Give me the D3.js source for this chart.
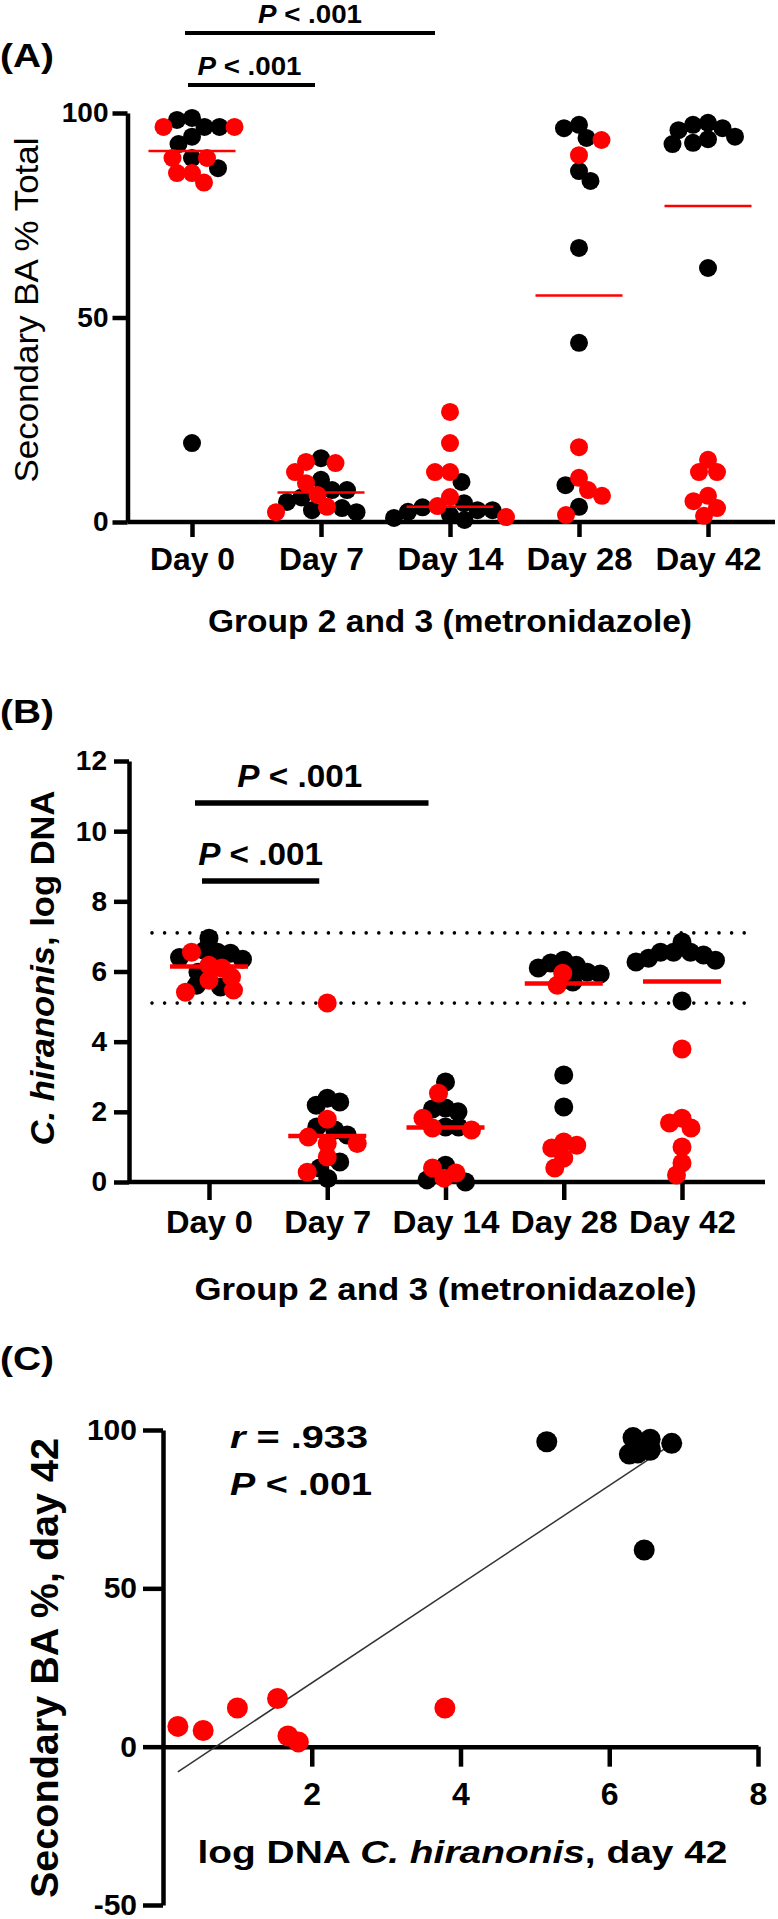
<!DOCTYPE html>
<html>
<head>
<meta charset="utf-8">
<script src="https://cdn.jsdelivr.net/npm/d3@7"></script>
<style>
  body { margin: 0; background: #fff; }
  svg { display: block; }
</style>
</head>
<body>
<svg id="fig" width="778" height="1919"></svg>
<script>
// ---- data ----
const days = ["Day 0", "Day 7", "Day 14", "Day 28", "Day 42"];
const comparisons = [["Day 0", "Day 7"], ["Day 0", "Day 14"]];
const pText = "P < .001";

// (A) secondary BA % of total, one row per day
const baBlack = [
  [96.6, 98.8, 98.3, 96.6, 94.2, 92.4, 89, 86.5, 19.3],
  [7.8, 10.3, 15.6, 2.9, 3.4, 4.9, 7.8, 2.4, 6.0],
  [9.8, 1.7, 4.6, 3.6, 2.9, 2.9, 0.5, 1.0, 2.5],
  [97.1, 93.9, 96.3, 85.8, 83.4, 67, 43.8, 9, 3.7],
  [94.2, 96.3, 93.6, 97.1, 97.6, 95.8, 92.4, 92.7, 62.1]
];
const baRed = [
  [96.6, 96.6, 85.3, 85.3, 83, 89, 89],
  [14.4, 9.5, 12.2, 14.7, 6.6, 2.4, 3.7],
  [26.9, 19.3, 12.2, 12.2, 3.9, 6.1, 1.2],
  [93.4, 89.7, 18.3, 10.8, 6.4, 7.8, 1.7],
  [6.4, 1.5, 12.2, 12.2, 15.2, 3.4, 5.1]
];
const baTicks = [0, 50, 100];

// (B) C. hiranonis log DNA
const dnaBlack = [
  [6.52, 6.55, 6.6, 6.95, 6.4, 5.98, 5.56, 5.61, 6.35],
  [2.39, 2.19, 2.28, 1.48, 1.57, 1.34, 0.4, 0.57, 0.1],
  [2.85, 2.11, 2.08, 2.0, 1.57, 1.57, 0.48, 0.06, 0.0],
  [5.93, 6.1, 6.18, 6.24, 6.32, 5.98, 5.7, 3.05, 2.14],
  [6.47, 6.55, 6.32, 6.55, 6.84, 6.27, 6.55, 6.38, 5.16]
];
const dnaRed = [
  [6.55, 6.18, 5.84, 5.75, 6.1, 5.47, 5.41],
  [5.1, 1.79, 1.28, 1.1, 1.1, 0.71, 0.28],
  [2.53, 1.82, 1.54, 1.48, 0.11, 0.4, 0.26],
  [5.95, 5.61, 0.97, 1.14, 1.05, 0.68, 0.4],
  [3.79, 1.68, 1.82, 1.54, 1.0, 0.54, 0.2]
];
const dnaTicks = [0, 2, 4, 6, 8, 10, 12];
const refInterval = [5.1, 7.1];

// (C) day 42: log DNA vs secondary BA %
const cDnaBlack = [5.16, 6.47, 6.32, 6.55, 6.84, 6.27, 6.55, 6.55, 6.38];
const cBaBlack = [96.3, 62.1, 97.6, 97.1, 95.8, 92.4, 93.6, 94.2, 92.7];
const cDnaRed = [0.2, 0.54, 1.0, 1.54, 1.68, 1.82, 3.79];
const cBaRed = [6.4, 5.1, 12.2, 15.2, 3.4, 1.5, 12.2];
const cXTicks = [2, 4, 6, 8];
const cYTicks = [-50, 0, 50, 100];
const rText = ".933";

// ---- drawing ----
const FONT = '"Liberation Sans", Arial, Helvetica, sans-serif';
const RED = "#ff0000";
const AXW = 4.5;
const svg = d3.select("#fig");

function addText(parent, parts, o) {
  const t = parent.append("text")
    .attr("font-family", FONT)
    .attr("font-size", o.size)
    .attr("font-weight", o.weight || "bold")
    .attr("text-anchor", o.anchor || "start")
    .attr("fill", "#000");
  if (o.rotate) t.attr("transform", `translate(${o.x},${o.y}) rotate(-90)`);
  else t.attr("x", o.x).attr("y", o.y);
  if (o.len) t.attr("textLength", o.len).attr("lengthAdjust", "spacingAndGlyphs");
  if (parts.length === 1 && !Array.isArray(parts[0])) {
    t.text(parts[0]);
  } else {
    parts.forEach(p => {
      const [s, it] = Array.isArray(p) ? p : [p, false];
      t.append("tspan").attr("font-style", it ? "italic" : "normal").text(s);
    });
  }
  return t;
}

function styleAxis(sel, size) {
  sel.attr("font-size", size).attr("font-family", FONT).attr("font-weight", "bold");
  sel.selectAll("path, line").attr("stroke", "#000").attr("stroke-width", AXW);
  sel.selectAll("text").attr("fill", "#000");
}

// simple beeswarm: spread points sideways until they stop colliding
function swarm(points, y, minDist) {
  const pts = points.map(d => ({ ...d, py: y(d.v) })).sort((a, b) => a.py - b.py);
  const placed = [];
  pts.forEach((p, j) => {
    const sgn = j % 2 ? -1 : 1;
    for (let k = 0; k < 600; k++) {
      const dx = k === 0 ? 0 : (k % 2 ? sgn : -sgn) * Math.ceil(k / 2) * 0.5;
      if (placed.every(q => (q.dx - dx) ** 2 + (q.py - p.py) ** 2 >= minDist * minDist)) {
        p.dx = dx;
        break;
      }
    }
    placed.push(p);
  });
  return pts;
}

function dotPanel(o) {
  const x = d3.scalePoint().domain(days).range(o.xRange);
  const y = d3.scaleLinear().domain(o.yDomain).range(o.yRange);
  const g = svg.append("g");

  const ya = g.append("g").attr("transform", `translate(${o.axisX},0)`)
    .call(d3.axisLeft(y).tickValues(o.yTicks).tickFormat(d => String(d))
      .tickSize(o.yTickLen).tickSizeOuter(0).tickPadding(o.yPad));
  styleAxis(ya, o.yFont);

  const xa = g.append("g").attr("transform", `translate(0,${y(0)})`)
    .call(d3.axisBottom(x).tickSize(o.xTickLen).tickSizeOuter(0));
  xa.select(".domain").remove();
  styleAxis(xa, o.xFont);
  xa.selectAll(".tick text").attr("dy", null).attr("y", o.xLabBase - y(0))
    .attr("textLength", d => d.length > 5 ? o.xLabW[1] : o.xLabW[0])
    .attr("lengthAdjust", "spacingAndGlyphs");
  g.append("line")
    .attr("x1", o.axisX).attr("x2", o.axisEnd)
    .attr("y1", y(0)).attr("y2", y(0))
    .attr("stroke", "#000").attr("stroke-width", AXW);

  if (o.refLines) {
    g.selectAll(".ref").data(o.refLines).join("line")
      .attr("x1", o.refX[0]).attr("x2", o.refX[1])
      .attr("y1", d => y(d)).attr("y2", d => y(d))
      .attr("stroke", "#000").attr("stroke-width", 3.6)
      .attr("stroke-linecap", "round").attr("stroke-dasharray", "0,12.6");
  }

  days.forEach((day, i) => {
    const pts = o.black[i].map(v => ({ v, c: "#000" }))
      .concat(o.red[i].map(v => ({ v, c: RED })));
    const laid = swarm(pts, y, o.minDist);
    const cx = x(day);
    g.selectAll(null).data(laid.filter(d => d.c === "#000")).join("circle")
      .attr("cx", d => cx + d.dx).attr("cy", d => d.py).attr("r", o.r).attr("fill", "#000");
    g.selectAll(null).data(laid.filter(d => d.c === RED)).join("circle")
      .attr("cx", d => cx + d.dx).attr("cy", d => d.py).attr("r", o.r).attr("fill", RED);
    const med = d3.median(pts, d => d.v);
    g.append("line")
      .attr("x1", cx - o.medHalf).attr("x2", cx + o.medHalf)
      .attr("y1", y(med)).attr("y2", y(med))
      .attr("stroke", RED).attr("stroke-width", o.medW);
  });

  // significance bars
  comparisons.forEach(([a, b], i) => {
    const lv = o.bars[i];
    const x1 = x(a) - lv.a, x2 = x(b) - lv.b;
    g.append("line").attr("x1", x1).attr("x2", x2).attr("y1", lv.y).attr("y2", lv.y)
      .attr("stroke", "#000").attr("stroke-width", o.barW);
    addText(g, [["P", true], pText.slice(1)],
      { x: (x1 + x2) / 2 + lv.dx, y: lv.y - lv.gap, size: o.pFont, anchor: "middle", len: o.pLen });
  });

  addText(g, ["Group 2 and 3 (metronidazole)"],
    { x: x("Day 14"), y: o.titleBase, size: o.titleFont, anchor: "middle", len: o.titleLen });
  return { x, y, g };
}

// (A)
addText(svg, ["(A)"], { x: 0, y: 67, size: 34, len: 54 });
dotPanel({
  black: baBlack, red: baRed,
  xRange: [192, 708], axisX: 127.5, axisEnd: 775,
  yDomain: [0, 100], yRange: [522, 113], yTicks: baTicks,
  yTickLen: 15, yPad: 4, yFont: 28,
  xTickLen: 15, xFont: 31, xLabBase: 570, xLabW: [85, 106],
  r: 9, minDist: 15, medHalf: 43.5, medW: 2.5,
  barW: 4, pFont: 25, pLen: 104,
  bars: [{ a: 4, b: 6, y: 85, gap: 10, dx: -2 }, { a: 7, b: 15, y: 33, gap: 10, dx: 0 }],
  titleBase: 632, titleFont: 31, titleLen: 484
});
addText(svg, ["Secondary BA % Total"],
  { x: 38, y: 310, size: 34, weight: "normal", anchor: "middle", rotate: true, len: 345 });

// (B)
addText(svg, ["(B)"], { x: 0, y: 723, size: 34, len: 54 });
dotPanel({
  black: dnaBlack, red: dnaRed,
  xRange: [209, 682], axisX: 129, axisEnd: 765,
  yDomain: [0, 12], yRange: [1182, 761], yTicks: dnaTicks,
  yTickLen: 15, yPad: 7, yFont: 28,
  xTickLen: 18, xFont: 31, xLabBase: 1233, xLabW: [87, 107],
  r: 9.5, minDist: 13, medHalf: 39, medW: 4.5,
  refLines: refInterval, refX: [152, 752],
  barW: 5.5, pFont: 31, pLen: 125,
  bars: [{ a: 7, b: 8, y: 881, gap: 16, dx: 0 }, { a: 14, b: 17, y: 803, gap: 16, dx: -12 }],
  titleBase: 1300, titleFont: 31, titleLen: 502
});
addText(svg, [["C. hiranonis", true], ", log DNA"],
  { x: 54, y: 968, size: 34, anchor: "middle", rotate: true, len: 355 });

// (C)
addText(svg, ["(C)"], { x: 0, y: 1370, size: 34, len: 54 });
const xC = d3.scaleLinear().domain([0, 8]).range([163, 758]);
const yC = d3.scaleLinear().domain([-50, 100]).range([1905, 1430]);
const gC = svg.append("g");

const cxa = gC.append("g").attr("transform", `translate(0,${yC(0)})`)
  .call(d3.axisBottom(xC).tickValues(cXTicks).tickFormat(d => String(d)).tickSize(20).tickSizeOuter(0));
styleAxis(cxa, 32);
cxa.selectAll(".tick text").attr("dy", null).attr("y", 1805 - yC(0));

const cya = gC.append("g").attr("transform", `translate(${xC(0)},0)`)
  .call(d3.axisLeft(yC).tickValues(cYTicks).tickFormat(d => String(d))
    .tickSize(20).tickSizeOuter(0).tickPadding(6));
styleAxis(cya, 30);

// least-squares fit through all day-42 points
const cx = cDnaBlack.concat(cDnaRed), cy = cBaBlack.concat(cBaRed);
const mx = d3.mean(cx), my = d3.mean(cy);
const slope = d3.sum(cx, (v, i) => (v - mx) * (cy[i] - my)) / d3.sum(cx, v => (v - mx) ** 2);
const icpt = my - slope * mx;
const [xmin, xmax] = d3.extent(cx);
gC.append("line")
  .attr("x1", xC(xmin)).attr("y1", yC(icpt + slope * xmin))
  .attr("x2", xC(xmax)).attr("y2", yC(icpt + slope * xmax))
  .attr("stroke", "#333").attr("stroke-width", 1.5);

gC.selectAll(".cb").data(cDnaBlack).join("circle")
  .attr("cx", d => xC(d)).attr("cy", (d, i) => yC(cBaBlack[i]))
  .attr("r", 10.5).attr("fill", "#000");
gC.selectAll(".cr").data(cDnaRed).join("circle")
  .attr("cx", d => xC(d)).attr("cy", (d, i) => yC(cBaRed[i]))
  .attr("r", 10.5).attr("fill", RED);

addText(gC, [["r", true], " = " + rText], { x: 230, y: 1448, size: 32, len: 138 });
addText(gC, [["P", true], pText.slice(1)], { x: 230, y: 1495, size: 32, len: 142 });

addText(gC, ["log DNA ", ["C. hiranonis", true], ", day 42"],
  { x: (xC(0) + xC(8)) / 2 + 2, y: 1863, size: 32, anchor: "middle", len: 530 });
addText(gC, ["Secondary BA %, day 42"],
  { x: 58, y: 1668, size: 38, anchor: "middle", rotate: true, len: 460 });
</script>
</body>
</html>
